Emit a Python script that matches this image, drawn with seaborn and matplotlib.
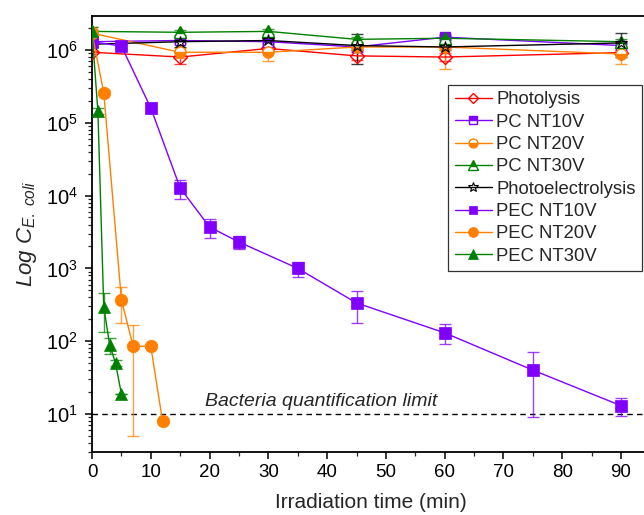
import numpy as np
import pandas as pd
import matplotlib
matplotlib.use("Agg")
import matplotlib.pyplot as plt
from matplotlib.lines import Line2D
from matplotlib.ticker import LogLocator, MultipleLocator, NullFormatter
import seaborn as sns

# ---------------- data ----------------
t_long = [0, 15, 30, 45, 60, 90]
photolysis = [9.3e5, 8.0e5, 1.05e6, 8.3e5, 8.0e5, 9.2e5]
photolysis_err = [5e4, 1.5e5, 1.0e5, 1.0e5, 1.0e5, 8e4]
pc10 = [1.3e6, 1.35e6, 1.3e6, 1.1e6, 1.5e6, 1.15e6]
pc10_err = [1e5, 1e5, 1e5, 1e5, 1e5, 1e5]
pc20 = [1.7e6, 9.3e5, 9.3e5, 1.1e6, 1.1e6, 8.8e5]
pc20_err = [2e5, 1.5e5, 2.2e5, 1e5, 5.5e5, 2.3e5]
pc30 = [1.8e6, 1.75e6, 1.8e6, 1.4e6, 1.45e6, 1.3e6]
pc30_err = [1e5, 1.5e5, 1.5e5, 1e5, 1e5, 1e5]
photoelec = [1.2e6, 1.3e6, 1.35e6, 1.15e6, 1.1e6, 1.25e6]
photoelec_err = [1e5, 2e5, 1e5, 5e5, 1e5, 4.5e5]

t_pec10 = [0, 5, 10, 15, 20, 25, 35, 45, 60, 75, 90]
pec10 = [1.3e6, 1.13e6, 1.6e5, 1.27e4, 3.7e3, 2.3e3, 1.0e3, 335, 130, 40, 13]
pec10_err = [1e5, 1e5, 2.5e4, 3.8e3, 1.1e3, 450, 240, 160, 40, 31, 3.5]

t_pec20 = [0, 2, 5, 7, 10, 12]
pec20 = [1.7e6, 2.6e5, 370, 85, 85, 8]
pec20_err = [4e5, 2e4, 190, 80, 5, 0]

t_pec30 = [0, 1, 2, 3, 4, 5]
pec30 = [1.8e6, 1.45e5, 295, 89, 50, 18.8]
pec30_err = [3e5, 1.5e4, 160, 22, 5, 0]

x_ticks = [0, 10, 20, 30, 40, 50, 60, 70, 80, 90]
limit_value = 10
limit_label = "Bacteria quantification limit"

RED, PURPLE, ORANGE, GREEN, BLACK = "#FF0000", "#8000FF", "#FF8000", "#008000", "#000000"

# ---------------- style ----------------
sns.set_theme(style="ticks")
plt.rcParams["font.family"] = ["Liberation Sans", "DejaVu Sans"]
plt.rcParams["mathtext.fontset"] = "custom"
plt.rcParams["mathtext.rm"] = "Liberation Sans"
plt.rcParams["mathtext.it"] = "Liberation Sans:italic"
plt.rcParams["mathtext.bf"] = "Liberation Sans:bold"

fig = plt.figure(figsize=(6.44, 5.15), dpi=100)
W, H = 644, 515
x0_px, x90_px = 92, 621
ppm = (x90_px - x0_px) / 90.0
xmax = 95
ax = fig.add_axes([x0_px / W, (H - 452) / H, xmax * ppm / W, (452 - 16) / H])

series = [
    ("Photolysis", t_long, photolysis, photolysis_err, RED,
     dict(marker="D", markersize=7, fillstyle="none", markeredgewidth=1.0)),
    ("PC NT10V", t_long, pc10, pc10_err, PURPLE,
     dict(marker="s", markersize=7.5, fillstyle="top", markerfacecoloralt="white", markeredgewidth=1.0)),
    ("PC NT20V", t_long, pc20, pc20_err, ORANGE,
     dict(marker="o", markersize=8, fillstyle="bottom", markerfacecoloralt="white", markeredgewidth=1.0)),
    ("PC NT30V", t_long, pc30, pc30_err, GREEN,
     dict(marker="^", markersize=8.5, fillstyle="top", markerfacecoloralt="white", markeredgewidth=1.0)),
    ("Photoelectrolysis", t_long, photoelec, photoelec_err, BLACK,
     dict(marker="*", markersize=9, fillstyle="none", markeredgewidth=0.8)),
    ("PEC NT10V", t_pec10, pec10, pec10_err, PURPLE,
     dict(marker="s", markersize=8, markeredgewidth=0.5)),
    ("PEC NT20V", t_pec20, pec20, pec20_err, ORANGE,
     dict(marker="o", markersize=9, markeredgewidth=0.5)),
    ("PEC NT30V", t_pec30, pec30, pec30_err, GREEN,
     dict(marker="^", markersize=9, markeredgewidth=0.5)),
]

handles = []
for name, t, v, e, col, mk in series:
    ax.errorbar(t, v, yerr=e, fmt="none", ecolor=col, elinewidth=1.0,
                capsize=4, capthick=1.0, alpha=0.75, zorder=2)
    df = pd.DataFrame({"t": t, "v": v})
    sns.lineplot(data=df, x="t", y="v", ax=ax, color=col, linewidth=1.0,
                 markeredgecolor=col, estimator=None, sort=False, zorder=3, **mk)
    lmk = dict(mk)
    lmk["markersize"] = mk["markersize"] * 0.8
    handles.append(Line2D([0], [0], color=col, linewidth=1.0,
                          markeredgecolor=col, label=name, **lmk))

ax.axhline(limit_value, color="black", linestyle=(0, (4, 3)), linewidth=1.0, zorder=1)
ax.text(19.3, limit_value * 1.14, limit_label, fontsize=14, style="italic",
        ha="left", va="bottom")

ax.set_yscale("log")
ax.set_xlim(0, xmax)
ax.set_ylim(3.0, 2.93e6)
ax.set_xticks(x_ticks)
ax.xaxis.set_minor_locator(MultipleLocator(5))
ax.yaxis.set_major_locator(LogLocator(base=10, numticks=10))
ax.yaxis.set_minor_locator(LogLocator(base=10, subs=np.arange(2, 10), numticks=20))
ax.yaxis.set_minor_formatter(NullFormatter())

ax.tick_params(axis="both", which="major", direction="out", length=5, width=1.1,
               colors="black", top=False, right=False)
ax.tick_params(axis="x", which="major", labelsize=13.5)
ax.tick_params(axis="y", which="major", labelsize=14.5, pad=5)
ax.tick_params(axis="both", which="minor", direction="out", length=3, width=0.9,
               top=False, right=False)
for s in ax.spines.values():
    s.set_linewidth(1.3)
    s.set_color("black")

ax.set_xlabel("Irradiation time (min)", fontsize=15, labelpad=9)
ax.set_ylabel(r"$Log\ C_{E.\ coli}$", fontsize=16, labelpad=5)

leg = ax.legend(handles=handles, loc="upper left", bbox_to_anchor=(0.638, 0.842),
                fontsize=13.3, frameon=True, fancybox=False, edgecolor="#333333",
                framealpha=1, handlelength=2.0, handletextpad=0.25,
                labelspacing=0.29, borderpad=0.35, borderaxespad=0)
leg.get_frame().set_linewidth(0.9)

fig.savefig("out.png", dpi=100)
